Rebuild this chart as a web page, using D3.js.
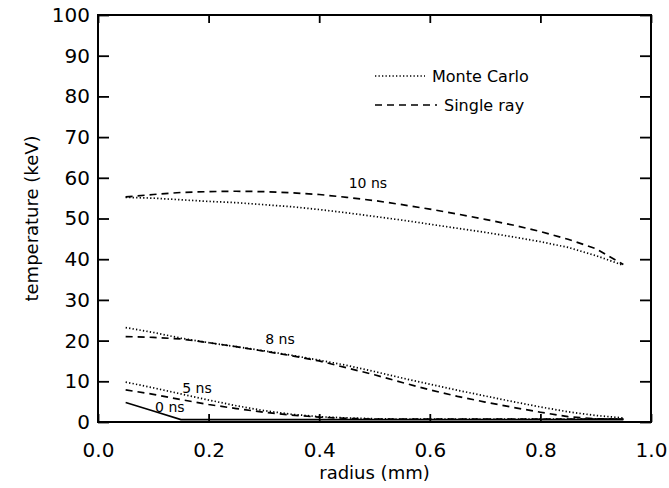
<!DOCTYPE html>
<html><head><meta charset="utf-8">
<script src="https://cdn.jsdelivr.net/npm/d3@7/dist/d3.min.js"></script>
<style>html,body{margin:0;padding:0;background:#fff;}</style>
</head><body>
<script>
// ---- data ----
const radius = [0.05,0.10,0.15,0.20,0.25,0.30,0.35,0.40,0.45,0.50,0.55,0.60,0.65,0.70,0.75,0.80,0.85,0.90,0.95];
const mc10 = [55.2,55.0,54.6,54.2,53.9,53.4,52.9,52.2,51.4,50.5,49.6,48.6,47.6,46.6,45.5,44.3,42.9,40.9,38.5];
const sr10 = [55.3,55.9,56.4,56.6,56.7,56.6,56.3,55.9,55.2,54.4,53.4,52.3,51.1,49.8,48.4,46.8,44.9,42.6,38.7];
const mc8  = [23.2,22.0,20.6,19.5,18.5,17.5,16.4,15.2,13.9,12.4,10.8,9.3,7.8,6.4,5.0,3.7,2.5,1.6,1.0];
const sr8  = [21.0,20.8,20.4,19.5,18.5,17.4,16.3,15.0,13.3,11.6,9.7,7.9,6.3,4.9,3.6,2.4,1.3,0.8,0.7];
const mc5  = [9.8,8.4,6.9,5.4,4.0,2.8,1.9,1.3,1.0,0.8,0.7,0.7,0.7,0.7,0.7,0.7,0.7,0.7,0.7];
const sr5  = [7.9,6.8,5.5,4.3,3.3,2.4,1.7,1.2,0.9,0.7,0.7,0.7,0.7,0.7,0.7,0.7,0.7,0.7,0.7];
const t0   = [4.8,2.7,0.6,0.6,0.6,0.6,0.6,0.6,0.6,0.6,0.6,0.6,0.6,0.6,0.6,0.6,0.6,0.6,0.6];
const xTicks = [0.0,0.2,0.4,0.6,0.8,1.0];
const yTicks = [0,10,20,30,40,50,60,70,80,90,100];
const curveLabels = [
  {text:"10 ns", x:0.488, y:58.8},
  {text:"8 ns",  x:0.329, y:20.4},
  {text:"5 ns",  x:0.179, y:8.4},
  {text:"0 ns",  x:0.130, y:3.8}
];
const legendItems = [{name:"Monte Carlo", kind:"dot"},{name:"Single ray", kind:"dash"}];

// ---- layout ----
const W=669,H=488;
const L=98,R=651,T=15,B=422;
const font="'DejaVu Sans', sans-serif";
const svg=d3.select("body").append("svg").attr("width",W).attr("height",H)
  .style("font-family",font);
svg.append("rect").attr("width",W).attr("height",H).attr("fill","#fff");

const x=d3.scaleLinear().domain([0,1]).range([L,R]);
const y=d3.scaleLinear().domain([0,100]).range([B,T]);

const styles={dot:"1.3,2.2",dash:"7,5",solid:null};

// axes
const gl=svg.append("g").attr("transform",`translate(${L},0)`)
  .call(d3.axisLeft(y).tickValues(yTicks).tickSize(-11).tickPadding(8).tickFormat(d3.format("d")));
const gr=svg.append("g").attr("transform",`translate(${R},0)`)
  .call(d3.axisRight(y).tickValues(yTicks).tickSize(-11).tickFormat(""));
const gb=svg.append("g").attr("transform",`translate(0,${B})`)
  .call(d3.axisBottom(x).tickValues(xTicks).tickSize(-8).tickPadding(21).tickFormat(d3.format(".1f")));
const gt=svg.append("g").attr("transform",`translate(0,${T})`)
  .call(d3.axisTop(x).tickValues(xTicks).tickSize(-8).tickFormat(""));
[gl,gr,gb,gt].forEach(g=>{
  g.select(".domain").remove();
  g.selectAll(".tick line").attr("stroke","#000").attr("stroke-width",1.8);
  g.selectAll("text").attr("font-size",20).attr("font-family",font).attr("fill","#000");
});
svg.append("rect").attr("x",L).attr("y",T).attr("width",R-L).attr("height",B-T)
  .attr("fill","none").attr("stroke","#000").attr("stroke-width",2);

// titles
svg.append("text").attr("x",(L+R)/2).attr("y",479).attr("text-anchor","middle")
  .attr("font-size",18).text("radius (mm)");
svg.append("text").attr("transform",`translate(38,${(T+B)/2}) rotate(-90)`)
  .attr("text-anchor","middle").attr("font-size",18).text("temperature (keV)");

// curves
const line=d3.line().x((d,i)=>x(radius[i])).y(d=>y(d));
const series=[
  {v:mc10,k:"dot"},{v:sr10,k:"dash"},
  {v:mc8,k:"dot"},{v:sr8,k:"dash"},
  {v:mc5,k:"dot"},{v:sr5,k:"dash"},
  {v:t0,k:"solid"}
];
series.forEach(s=>{
  svg.append("path").attr("d",line(s.v)).attr("fill","none").attr("stroke","#000")
    .attr("stroke-width",1.7).attr("stroke-dasharray",styles[s.k]);
});

// curve labels
curveLabels.forEach(c=>{
  svg.append("text").attr("x",x(c.x)).attr("y",y(c.y)).attr("text-anchor","middle")
    .attr("dominant-baseline","central").attr("font-size",14).text(c.text);
});

// legend
const legY=[76,105], legX0=375;
legendItems.forEach((it,i)=>{
  const x1 = it.kind==="dot"?425:437;
  svg.append("line").attr("x1",legX0).attr("x2",x1).attr("y1",legY[i]).attr("y2",legY[i])
    .attr("stroke","#000").attr("stroke-width",1.7).attr("stroke-dasharray",styles[it.kind]);
  svg.append("text").attr("x",x1+7).attr("y",legY[i]).attr("dominant-baseline","central")
    .attr("font-size",16).text(it.name);
});
</script>
</body></html>
